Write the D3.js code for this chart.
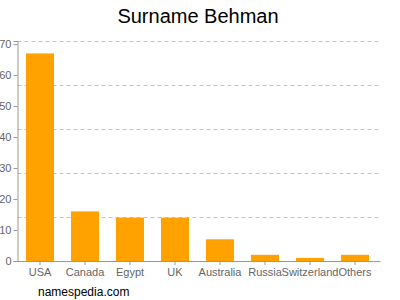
<!DOCTYPE html>
<html>
<head>
<meta charset="utf-8">
<script src="https://cdnjs.cloudflare.com/ajax/libs/d3/7.8.5/d3.min.js"></script>
<style>
  body { margin: 0; background: #fff; }
  svg { font-family: "Liberation Sans", Arial, sans-serif; }
</style>
</head>
<body>
<svg width="400" height="300"></svg>
<script>
// data
var countries = ["USA", "Canada", "Egypt", "UK", "Australia", "Russia", "Switzerland", "Others"];
var counts = [67, 16, 14, 14, 7, 2, 1, 2];
var yTicks = [0, 10, 20, 30, 40, 50, 60, 70];
var yMax = 71;
var gridCount = 5;

var margin = {top: 41, right: 22.5, bottom: 39, left: 17.5},
    width = 400 - margin.left - margin.right,
    height = 300 - margin.top - margin.bottom;

var svg = d3.select("svg");
var g = svg.append("g")
    .attr("transform", "translate(" + margin.left + "," + margin.top + ")");

var x = d3.scaleBand()
    .domain(countries)
    .range([0, width])
    .paddingInner(0.378)
    .paddingOuter(0.189);

var y = d3.scaleLinear()
    .domain([0, yMax])
    .range([height, 0]);

// dashed grid lines, equal divisions of the plot
var gridVals = d3.range(1, gridCount + 1).map(function(i) { return yMax * i / gridCount; });
g.selectAll(".grid")
    .data(gridVals)
    .enter().append("line")
    .attr("x1", 0)
    .attr("x2", width + 3)
    .attr("y1", function(d) { return Math.round(y(d)) + 0.5; })
    .attr("y2", function(d) { return Math.round(y(d)) + 0.5; })
    .attr("stroke", "#c4c4c4")
    .attr("stroke-dasharray", "4,3");

// bars
g.selectAll(".bar")
    .data(countries)
    .enter().append("rect")
    .attr("class", "bar")
    .attr("x", function(d) { return x(d); })
    .attr("width", x.bandwidth())
    .attr("y", function(d, i) { return y(counts[i]); })
    .attr("height", function(d, i) { return height - y(counts[i]); })
    .attr("fill", "#ffa200");

// y axis
var yAxis = g.append("g")
    .call(d3.axisLeft(y).tickValues(yTicks).tickSize(4).tickPadding(2));
// x axis
var xAxis = g.append("g")
    .attr("transform", "translate(0," + height + ")")
    .call(d3.axisBottom(x).tickSize(4).tickSizeOuter(0).tickPadding(3));

xAxis.select(".domain").attr("d", "M0,0.5H" + (width + 3));

[yAxis, xAxis].forEach(function(a) {
  a.select(".domain").attr("stroke", "#999");
  a.selectAll(".tick line").attr("stroke", "#999");
  a.selectAll(".tick text")
    .attr("fill", "#666")
    .style("font-size", "11px")
    .style("font-family", "'Liberation Sans', Arial, sans-serif");
});

// title
svg.append("text")
    .attr("x", 198)
    .attr("y", 23)
    .attr("text-anchor", "middle")
    .style("font-size", "20px")
    .attr("fill", "#000")
    .text("Surname Behman");

svg.append("text")
    .attr("x", 38)
    .attr("y", 296)
    .style("font-size", "12px")
    .attr("fill", "#000")
    .text("namespedia.com");
</script>
</body>
</html>
